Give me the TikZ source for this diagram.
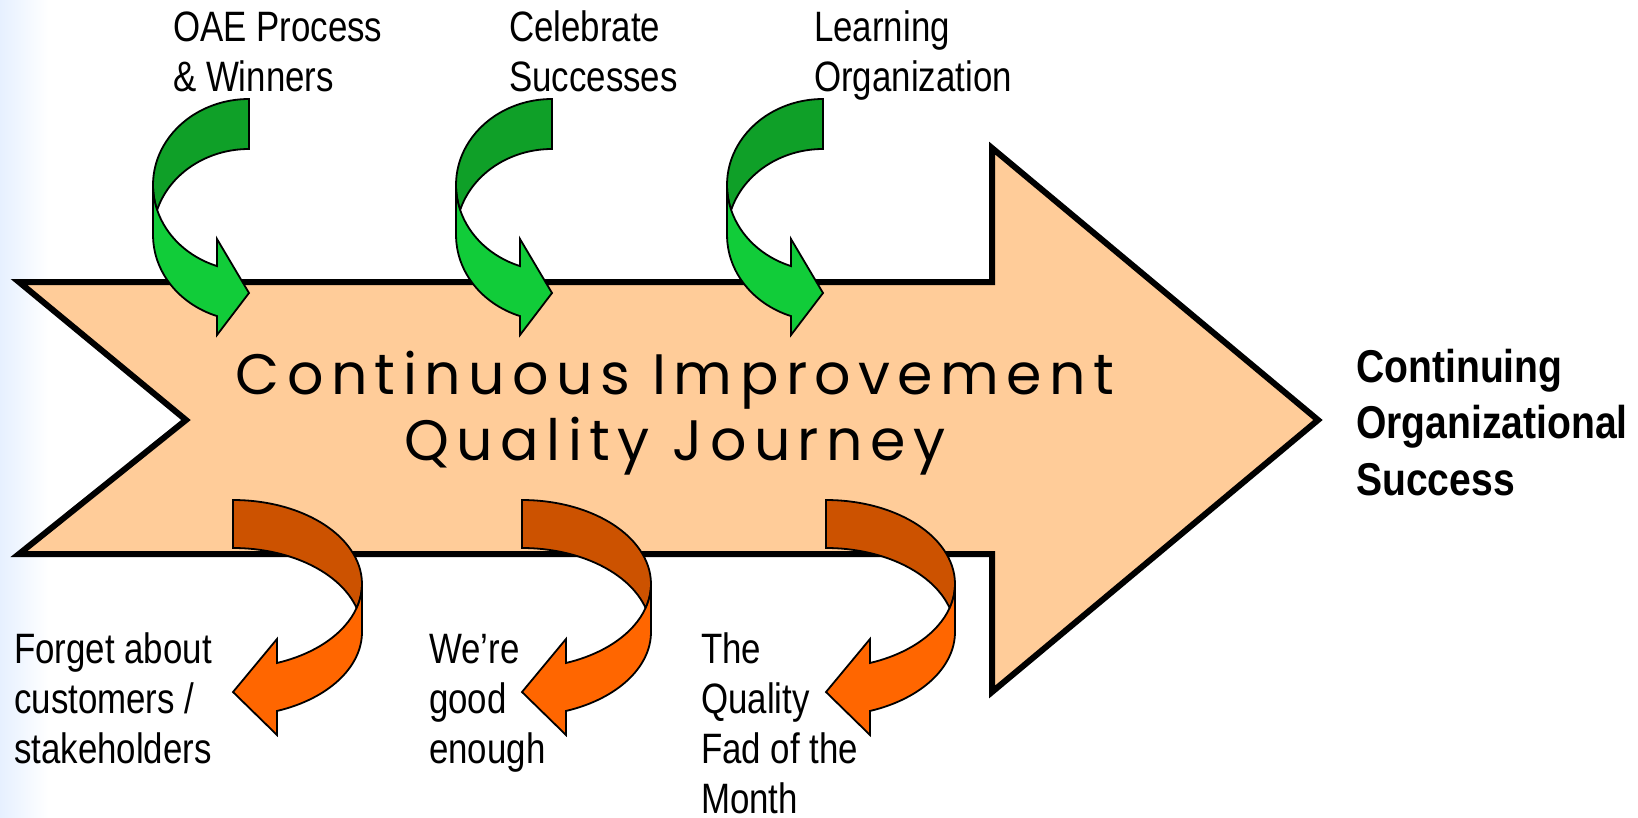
\documentclass[tikz,border=0pt]{standalone}
\usepackage{fontspec}
\setmainfont{Liberation Sans}
\newfontfamily\narrowfont[FakeStretch=0.82]{Liberation Sans}
\newfontfamily\goalfont[FakeStretch=0.85]{Liberation Sans}
\newfontfamily\journeyfont[LetterSpace=13]{Poppins}

\definecolor{peach}{RGB}{255,204,153}
\definecolor{edgeblue}{RGB}{230,240,255}
\definecolor{greenback}{RGB}{15,160,40}
\definecolor{greenfront}{RGB}{17,204,57}
\definecolor{orangeback}{RGB}{204,82,0}
\definecolor{orangefront}{RGB}{255,102,0}

\tikzset{
  journey/.style={draw=black, line width=6pt, fill=peach},
  curl/.style={draw=black, line width=1.8pt},
  % multi-line nodes: base is the baseline of the last line
  journeytext/.style={anchor=base, align=center, inner sep=0pt,
    font=\journeyfont\fontsize{57}{66}\selectfont},
  caption/.style={anchor=base west, align=left, inner sep=0pt,
    font=\narrowfont\fontsize{42.5}{50}\selectfont},
  goaltext/.style={anchor=base west, align=left, inner sep=0pt,
    font=\goalfont\bfseries\fontsize{46}{56.5}\selectfont},
  % green ribbon: tail up right, bends round the left, head points right
  upcurl/.pic={
    \filldraw[curl, fill=greenback] (0,86)
      arc[start angle=90, end angle=196.9, x radius=96, y radius=86]
      arc[start angle=163.1, end angle=90, x radius=96, y radius=86] -- cycle;
    \filldraw[curl, fill=greenfront] (-91.85,-25)
      arc[start angle=196.9, end angle=250.5, x radius=96, y radius=86]
      -- (-32,-54) -- (0,-108) -- (-32,-150) -- (-32,-131.1)
      arc[start angle=250.5, end angle=180, x radius=96, y radius=86]
      -- (-96,0)
      arc[start angle=180, end angle=196.9, x radius=96, y radius=86] -- cycle;
  },
  % orange ribbon: tail up left, bends round the right, head points left
  downcurl/.pic={
    \filldraw[curl, fill=orangeback] (0,84)
      arc[start angle=90, end angle=-16.6, x radius=129, y radius=84]
      arc[start angle=16.6, end angle=90, x radius=129, y radius=84] -- cycle;
    \filldraw[curl, fill=orangefront] (123.6,-24)
      arc[start angle=-16.6, end angle=-70.05, x radius=129, y radius=84]
      -- (44,-55) -- (0,-108) -- (44,-151) -- (44,-126.97)
      arc[start angle=-70.05, end angle=0, x radius=129, y radius=84]
      -- (129,0)
      arc[start angle=0, end angle=-16.6, x radius=129, y radius=84] -- cycle;
  },
}

\begin{document}
\begin{tikzpicture}[x=1pt, y=1pt]
  \useasboundingbox (0,0) rectangle (1638,-817);

  % pale band down the left edge
  \shade[left color=edgeblue, right color=white] (0,0) rectangle (48,-817);

  % the big arrow
  \draw[journey] (19,-282) -- (992,-282) -- (992,-148) -- (1318,-420)
    -- (992,-692) -- (992,-554) -- (19,-554) -- (186,-420) -- cycle;
  \node[journeytext] (journey) at (675,-460) {Continuous Improvement\\Quality Journey};

  % pushes from above
  \pic at (249,-185) {upcurl};
  \pic at (552,-185) {upcurl};
  \pic at (823,-185) {upcurl};

  % pulls from below
  \pic at (233,-584) {downcurl};
  \pic at (522,-584) {downcurl};
  \pic at (826,-584) {downcurl};

  \node[caption] (oae)       at (173,-91) {OAE Process\\\& Winners};
  \node[caption] (celebrate) at (509,-91) {Celebrate\\Successes};
  \node[caption] (learning)  at (814,-91) {Learning\\Organization};

  \node[caption] (forget) at (14,-763)  {Forget about\\customers /\\stakeholders};
  \node[caption] (enough) at (429,-763) {We’re\\good\\enough};
  \node[caption] (fad)    at (701,-813) {The\\Quality\\Fad of the\\Month};

  \node[goaltext] (goal) at (1356,-495) {Continuing\\Organizational\\Success};
\end{tikzpicture}
\end{document}
